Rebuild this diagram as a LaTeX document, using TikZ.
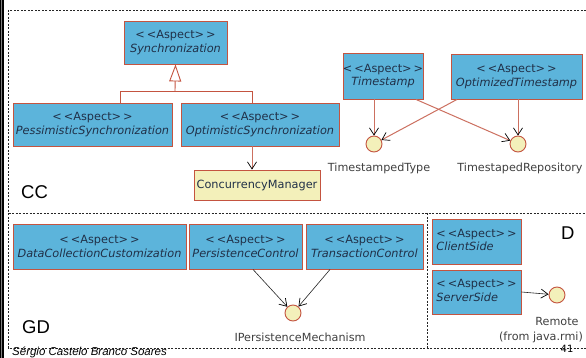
\documentclass[tikz,border=0pt]{standalone}
\usepackage{fontspec}
\setmainfont{DejaVu Sans}
\newfontfamily\labelfont{Liberation Sans}
\usetikzlibrary{arrows.meta}

\definecolor{aspectblue}{RGB}{92,180,219}
\definecolor{edgered}{RGB}{196,84,64}
\definecolor{linkred}{RGB}{204,112,96}
\definecolor{paleyellow}{RGB}{243,240,186}
\definecolor{inktext}{RGB}{32,48,72}
\definecolor{greytext}{RGB}{64,64,64}

\newcommand\stereoname[1]{<\,<Aspect>\,>\\\textit{#1}}

\begin{document}
\begin{tikzpicture}[x=1pt,y=-1pt,
  aspect/.style={draw=edgered, fill=aspectblue, line width=0.9pt, inner sep=0pt,
    align=center, text=inktext, font=\fontsize{11.3}{13.5}\selectfont},
  classbox/.style={draw=edgered, fill=paleyellow, line width=0.9pt, inner sep=0pt,
    text=inktext, font=\fontsize{11.3}{13.5}\selectfont},
  iface/.style={circle, draw=edgered, fill=paleyellow, minimum size=16pt,
    inner sep=0pt, line width=0.9pt},
  ifacename/.style={inner sep=0pt, text=greytext, align=center,
    font=\fontsize{11.2}{16}\selectfont},
  region/.style={dash pattern=on 2pt off 1.5pt, line width=0.8pt, black!85},
  regionname/.style={anchor=base west, inner sep=0pt,
    font=\labelfont\fontsize{18.5}{20}\selectfont},
  ctip/.style={-{Straight Barb[length=7pt,width=9pt,color=black,line width=0.7pt]}},
  redlink/.style={draw=linkred, line width=1pt, ctip},
  inklink/.style={draw=black!85, line width=0.6pt, ctip},
  genline/.style={draw=edgered, line width=0.9pt}
]
\useasboundingbox (0,0) rectangle (586,358);
\fill[white] (0,0) rectangle (586,358);

% page edge rule
\draw[line width=1pt] (0.5,0) -- (0.5,358);
\draw[gray, line width=1pt] (1.5,0) -- (1.5,358);
\draw[line width=2pt] (3,0) -- (3,358);

% package regions
\draw[region] (586,10) -- (8.5,10) -- (8.5,348) -- (586,348);
\draw[region] (8.5,213) -- (586,213);
\draw[region] (427,213) -- (427,348);

\node[regionname] (cc) at (21,199) {CC};
\node[regionname] (gd) at (22,333) {GD};
\node[regionname] (dl) at (561,239) {D};

% CC: synchronization hierarchy
\node[aspect, minimum width=103pt, minimum height=43pt] (sync) at (175.5,42.5) {\stereoname{Synchronization}};
\node[aspect, minimum width=159pt, minimum height=43pt] (pess) at (92.5,124.5) {\stereoname{PessimisticSynchronization}};
\node[aspect, minimum width=158pt, minimum height=43pt] (opt) at (260,124.5) {\stereoname{OptimisticSynchronization}};
\node[classbox, minimum width=126pt, minimum height=30pt] (conc) at (257,185) {ConcurrencyManager};

\coordinate (gj) at (175,91);
\coordinate (gl) at (120,91);
\coordinate (gr) at (252,91);
\draw[genline] (gl |- pess.north) -- (gl) -- (gr) -- (gr |- opt.north);
\draw[genline, -{Triangle[length=17pt,width=12pt,fill=white,color=edgered,line width=0.9pt]}] (gj) -- (sync.south);
\draw[redlink] (gr |- opt.south) -- (gr |- conc.north);

% CC: timestamps
\node[aspect, minimum width=80pt, minimum height=46pt] (ts) at (383,76) {\stereoname{Timestamp}};
\node[aspect, minimum width=131pt, minimum height=45pt] (ots) at (516.5,76.5) {\stereoname{OptimizedTimestamp}};
\node[iface] (tt) at (374,144) {};
\node[iface] (tr) at (518,144) {};
\node[ifacename] (ttname) at (379,168) {TimestampedType};
\node[ifacename] (trname) at (520,168) {TimestapedRepository};

\draw[redlink] (tt |- ts.south) -- (tt);
\draw[redlink] ([xshift=33pt]ts.south) -- (tr);
\draw[redlink] ([xshift=-59.5pt]ots.south) -- (tt);
\draw[redlink] (tr |- ots.south) -- (tr);

% GD
\node[aspect, minimum width=173pt, minimum height=45pt] (dcc) at (99.5,246.5) {\stereoname{DataCollectionCustomization}};
\node[aspect, minimum width=113pt, minimum height=45pt] (pc) at (245.5,246.5) {\stereoname{PersistenceControl}};
\node[aspect, minimum width=117pt, minimum height=45pt] (tc) at (364.5,246.5) {\stereoname{TransactionControl}};
\node[iface] (ipm) at (293,313) {};
\node[ifacename] (ipmname) at (300,337) {IPersistenceMechanism};

\draw[inklink] ([xshift=7.5pt]pc.south) -- (ipm);
\draw[inklink] ([xshift=-34.5pt]tc.south) -- (ipm);

% D
\node[aspect, minimum width=89pt, minimum height=45pt] (cs) at (476.5,241.5) {\begin{tabular}{@{}l@{}}<\,<Aspect>\,>\\\textit{ClientSide}\end{tabular}};
\node[aspect, minimum width=89pt, minimum height=44pt] (ss) at (476.5,292) {\begin{tabular}{@{}l@{}}<\,<Aspect>\,>\\\textit{ServerSide}\end{tabular}};
\node[iface] (rem) at (557,295) {};
\node[ifacename] (remname) at (557,321) {Remote};
\node[ifacename] (remfrom) at (541,337) {(from java.rmi)};

\draw[inklink] (ss.east) -- (rem);

% footer
\node[inner sep=0pt, font=\fontsize{10}{12}\selectfont] (pageno) at (567,349) {41};
\node[anchor=base west, inner sep=0pt, font=\labelfont\itshape\fontsize{11.5}{13}\selectfont] (author) at (12,355.5) {Sérgio Castelo Branco Soares};
\end{tikzpicture}
\end{document}
